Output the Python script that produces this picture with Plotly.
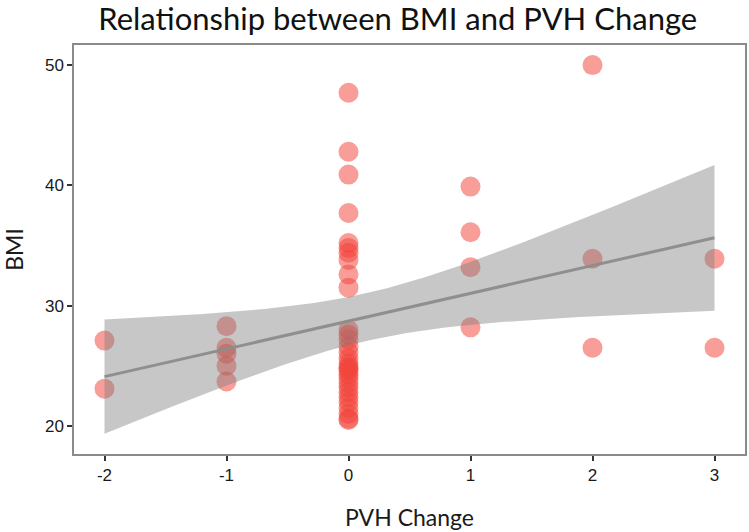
import numpy as np
import plotly.graph_objects as go

# PVH change (x) and BMI (y)
pvh_change = [-2, -2,
              -1, -1, -1, -1, -1,
              0, 0, 0, 0, 0, 0, 0, 0, 0, 0,
              0, 0, 0, 0, 0, 0, 0, 0, 0, 0, 0, 0, 0, 0, 0, 0, 0, 0, 0, 0, 0,
              1, 1, 1, 1,
              2, 2, 2,
              3, 3]
bmi = [27.1, 23.1,
       28.3, 26.5, 26.0, 25.0, 23.7,
       47.7, 42.8, 40.9, 37.7, 35.2, 34.8, 34.4, 33.8, 32.6, 31.5,
       28.0, 27.6, 27.2, 26.6, 26.1, 25.6, 25.2, 24.9, 24.6, 24.3, 24.0, 23.6, 23.2, 22.8, 22.4, 22.0, 21.5, 21.0, 20.6, 20.5, 24.8,
       39.9, 36.1, 33.2, 28.2,
       50.0, 33.9, 26.5,
       33.9, 26.5]

x_ticks = [-2, -1, 0, 1, 2, 3]
y_ticks = [20, 30, 40, 50]

# OLS fit with 95% confidence band
x = np.array(pvh_change, dtype=float)
y = np.array(bmi, dtype=float)
n = len(x)
mx, my = x.mean(), y.mean()
sxx = ((x - mx) ** 2).sum()
slope = ((x - mx) * (y - my)).sum() / sxx
intercept = my - slope * mx
resid = y - (intercept + slope * x)
s = np.sqrt((resid ** 2).sum() / (n - 2))
t_crit = 2.018
xg = np.linspace(x.min(), x.max(), 100)
yg = intercept + slope * xg
se = s * np.sqrt(1.0 / n + (xg - mx) ** 2 / sxx)
upper = yg + t_crit * se
lower = yg - t_crit * se

fig = go.Figure()
fig.add_trace(go.Scatter(
    x=pvh_change, y=bmi, mode="markers",
    marker=dict(size=20, color="rgba(242,68,58,0.52)", line=dict(width=0)),
    showlegend=False, hoverinfo="x+y"))
fig.add_trace(go.Scatter(
    x=np.concatenate([xg, xg[::-1]]), y=np.concatenate([upper, lower[::-1]]),
    fill="toself", fillcolor="rgba(128,128,128,0.44)", line=dict(width=0),
    mode="lines", showlegend=False, hoverinfo="skip"))
fig.add_trace(go.Scatter(
    x=xg, y=yg, mode="lines", line=dict(color="rgba(140,140,140,0.95)", width=3),
    showlegend=False, hoverinfo="skip"))

axis_common = dict(
    showgrid=False, zeroline=False, showline=True, linecolor="#8a8a8a", linewidth=1.5,
    mirror=True, ticks="outside", ticklen=5, tickwidth=1.5, tickcolor="#333",
    tickfont=dict(family="Liberation Sans", size=17, color="#1a1a1a"),
    automargin=False,
)
fig.update_xaxes(range=[-2.25, 3.25], tickvals=x_ticks, ticktext=[str(v) for v in x_ticks],
                 title=dict(text="PVH Change", font=dict(family="Lato", size=23, color="#1a1a1a"), standoff=26),
                 **axis_common)
fig.update_yaxes(range=[17.67, 51.67], tickvals=y_ticks, ticktext=[str(v) for v in y_ticks],
                 title=dict(text="BMI", font=dict(family="Lato", size=23, color="#1a1a1a"), standoff=19),
                 **axis_common)
fig.update_layout(
    width=749, height=532,
    margin=dict(l=74, r=4, t=45, b=78),
    paper_bgcolor="white", plot_bgcolor="white",
    title=dict(text="Relationship between BMI and PVH Change", x=0.531, xanchor="center",
               y=0.964, yanchor="middle",
               font=dict(family="Lato", size=31, color="#111")),
)
fig.write_html("out.html", config={"displayModeBar": False},
               post_script="document.body.style.margin='0';document.body.style.overflow='hidden';")
